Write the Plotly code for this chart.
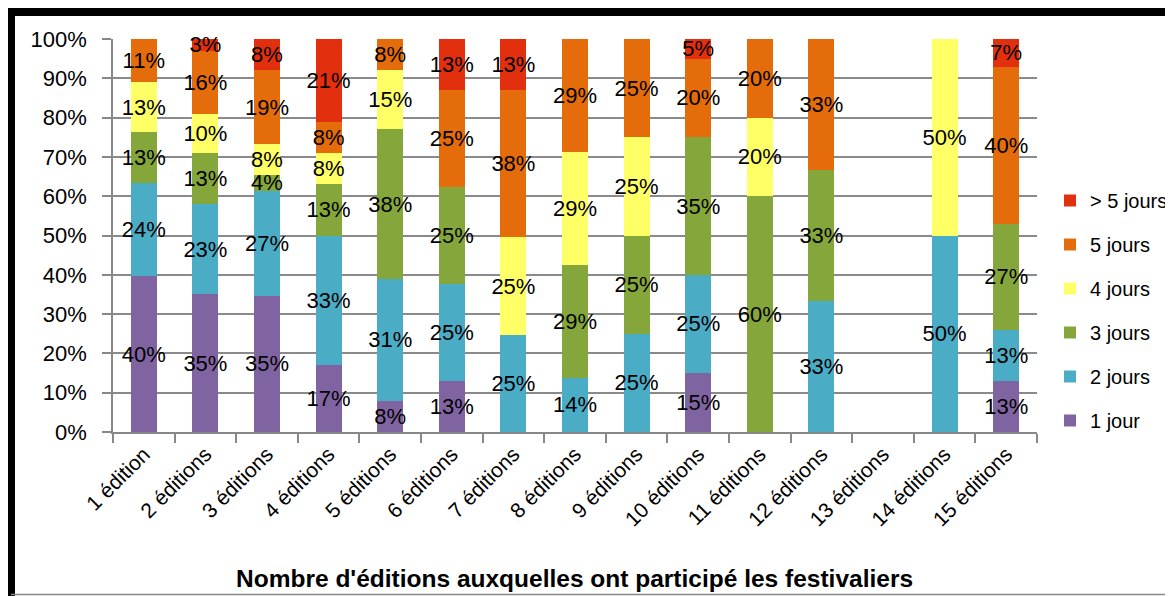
import plotly.graph_objects as go

categories = ["1 édition", "2 éditions", "3 éditions", "4 éditions", "5 éditions",
              "6 éditions", "7 éditions", "8 éditions", "9 éditions", "10 éditions",
              "11 éditions", "12 éditions", "13 éditions", "14 éditions", "15 éditions"]

jour_1 = [40, 35, 35, 17, 8, 13, None, None, None, 15, None, None, None, None, 13]
jours_2 = [24, 23, 27, 33, 31, 25, 25, 14, 25, 25, None, 33, None, 50, 13]
jours_3 = [13, 13, 4, 13, 38, 25, None, 29, 25, 35, 60, 33, None, None, 27]
jours_4 = [13, 10, 8, 8, 15, None, 25, 29, 25, None, 20, None, None, 50, None]
jours_5 = [11, 16, 19, 8, 8, 25, 38, 29, 25, 20, 20, 33, None, None, 40]
jours_plus5 = [None, 3, 8, 21, None, 13, 13, None, None, 5, None, None, None, None, 7]

series = [
    ("1 jour", jour_1, "#8064A2"),
    ("2 jours", jours_2, "#4BACC6"),
    ("3 jours", jours_3, "#84A63B"),
    ("4 jours", jours_4, "#FFFF66"),
    ("5 jours", jours_5, "#E46C0A"),
    ("> 5 jours", jours_plus5, "#E2300F"),
]

# page geometry (the html body has an 8px default margin); the figure is a bit
# wider than the window so the legend does not push the plot area
OFF = 8
PAGE_W, PAGE_H = 1173, 596
W, H = PAGE_W - OFF + 40, PAGE_H - OFF
L, R, T, B = 113, 1037, 39, 432  # plot area in page px


def px2x(px):
    return (px - L) / (R - L)


def px2y(py):
    return (B - py) / (B - T)


FONT = "Liberation Sans, Arial, sans-serif"

fig = go.Figure()
n = len(series)
for i, (name, vals, col) in enumerate(series):
    fig.add_trace(go.Bar(
        x=categories, y=vals, name=name,
        marker=dict(color=col, line=dict(width=0)),
        text=[f"{v}%" if v is not None else "" for v in vals],
        textposition="inside", insidetextanchor="middle", textangle=0,
        insidetextfont=dict(color="black", size=22, family=FONT),
        constraintext="none", cliponaxis=False,
        legendgroup=f"g{i}", legendrank=n - i,
        hoverinfo="skip",
    ))

fig.update_layout(
    width=W, height=H,
    margin=dict(l=L - OFF, r=W - (R - OFF), t=T - OFF, b=H - (B - OFF), pad=0),
    barmode="stack", barnorm="percent", bargap=0.58,
    paper_bgcolor="white", plot_bgcolor="white",
    font=dict(family=FONT, size=22, color="black"),
    uniformtext=dict(minsize=22, mode="show"),
    showlegend=True,
    legend=dict(
        x=px2x(1050), xanchor="left", y=px2y(181), yanchor="top",
        traceorder="grouped", tracegroupgap=15,
        font=dict(size=20, family=FONT, color="black"),
        bgcolor="rgba(0,0,0,0)",
    ),
    xaxis=dict(
        type="category", tickangle=-45, showline=True, linecolor="#888888", linewidth=1.5,
        ticks="outside", tickson="boundaries", ticklen=9, tickcolor="#888888", tickwidth=1.5,
        showgrid=False, tickfont=dict(size=21, family=FONT, color="black"),
    ),
    yaxis=dict(
        range=[0, 100], dtick=10, ticksuffix="%", showline=True, linecolor="#888888", linewidth=1.5,
        ticks="outside", ticklen=9, tickcolor="#888888", tickwidth=1.5,
        showgrid=True, gridcolor="#8a8a8a", gridwidth=1.5, zeroline=False,
        tickfont=dict(size=22, family=FONT, color="black"), ticklabelstandoff=11,
    ),
    annotations=[dict(
        text="<b>Nombre d'éditions auxquelles ont participé les festivaliers</b>",
        xref="paper", yref="paper", x=px2x(574), y=px2y(578),
        xanchor="center", yanchor="middle", showarrow=False,
        font=dict(size=24.5, family=FONT, color="black"),
    )],
    shapes=[
        dict(type="line", xref="paper", yref="paper",
             x0=px2x(11), x1=px2x(1240), y0=px2y(12), y1=px2y(12),
             line=dict(color="black", width=8)),
        dict(type="line", xref="paper", yref="paper",
             x0=px2x(11), x1=px2x(11), y0=px2y(8), y1=px2y(600),
             line=dict(color="black", width=8)),
        dict(type="line", xref="paper", yref="paper",
             x0=px2x(11), x1=px2x(1240), y0=px2y(594.5), y1=px2y(594.5),
             line=dict(color="#888888", width=1.5)),
    ],
)

fig.write_html("out.html")
